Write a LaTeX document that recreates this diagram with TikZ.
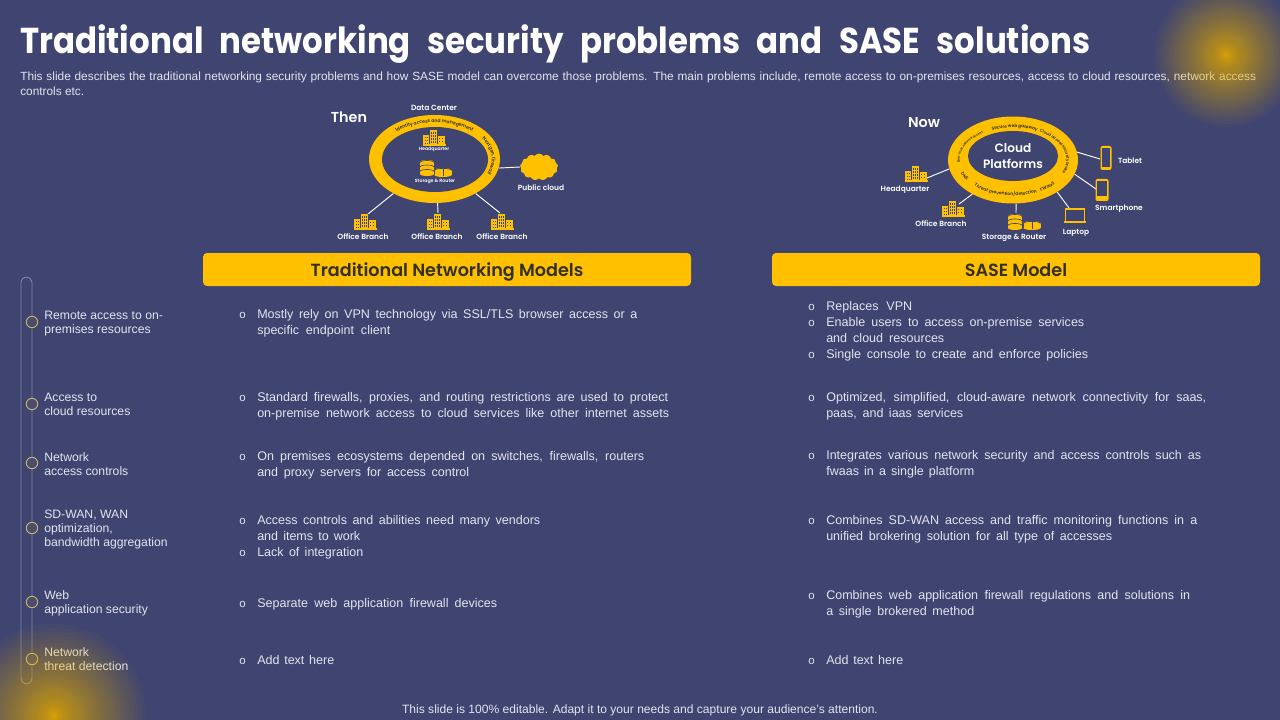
\documentclass[tikz,border=0pt]{standalone}
\usepackage{fontspec}
\setmainfont{Liberation Sans}
\newfontfamily\pop{Poppins}[BoldFont=* SemiBold]
\newfontfamily\popt{Poppins}
\usetikzlibrary{shapes.geometric,shapes.symbols,decorations.text}
\definecolor{bgc}{HTML}{3F4570}
\definecolor{gold}{HTML}{FFC000}
\definecolor{txtc}{HTML}{E2E4EE}
\definecolor{railc}{HTML}{7F84A0}
\definecolor{dotc}{HTML}{4C4C6C}
\definecolor{dotl}{HTML}{C9B46A}
\definecolor{darkt}{HTML}{33302A}
\newcommand\tline[5]{\node[txt] (#1) at (#2,#3) {\makebox[\dimexpr #4pt*3/4\relax][s]{#5}};}
\newcommand\bul[3]{\node[txt,font=\fontsize{8.6}{11}\selectfont] (#1) at (#2,#3) {o};}
\newcommand\glowat[3]{\foreach \k in {1,...,90}{\fill[gold,opacity=.032] (#1,#2) circle ({#3*(\k/90)*(\k/90)*(\k/90)*(\k/90)});}}
\newcommand\ringtxt[8]{\path[decorate,decoration={text along path,raise=-1.2pt,text align={align=center},text={|\pop\bfseries\fontsize{#8}{#8}\selectfont\color{darkt}|#7}}]
  (#1+#2*cos #5,#3+#4*sin #5) arc[start angle=#5,end angle=#6,x radius=#2,y radius=#4];}
\tikzset{
 x=0.75pt,y=-0.75pt,
 txt/.style={anchor=base west,inner sep=0pt,text=txtc,font=\fontsize{9.4}{11}\selectfont},
 desc/.style={anchor=base west,inner sep=0pt,text=txtc,font=\fontsize{8.9}{11}\selectfont},
 lab/.style={anchor=base west,inner sep=0pt,text=txtc,font=\fontsize{9.15}{11}\selectfont},
 tiny/.style={anchor=base,inner sep=0pt,text=white,font=\pop\bfseries\fontsize{5.6}{6}\selectfont},
 micro/.style={anchor=base,inner sep=0pt,text=white,font=\pop\bfseries\fontsize{3.5}{4}\selectfont},
 ringout/.style={ellipse,fill=gold,inner sep=0pt},
 ringin/.style={ellipse,fill=bgc,inner sep=0pt,align=center,text=white},
 link/.style={draw=white,line width=0.7pt},
 headbox/.style={fill=gold,rounded corners=3pt,minimum width=366pt,minimum height=24.75pt,inner sep=0pt,text=darkt,font=\pop\bfseries\fontsize{13.2}{14}\selectfont},
 dot/.style={circle,draw=dotl,fill=dotc,line width=0.7pt,minimum size=8.6pt,inner sep=0pt},
 bldg/.pic={
  \fill[gold] (-11,-3) rectangle (-4,7);
  \fill[gold] (-5,-7.5) rectangle (3,7);
  \fill[gold] (3,-2) rectangle (11,7);
  \fill[gold] (-11.5,6.5) rectangle (11.5,7.6);
  \draw[bgc,line width=.35pt] (-5,-7.5)--(-5,6.5) (3,-7.5)--(3,6.5);
  \foreach \xx in {-9.5,-7}{\foreach \yy in {-1,2,5}{\fill[bgc] (\xx,\yy) rectangle ++(1.1,1.3);}}
  \foreach \xx in {-3.5,-1,1}{\foreach \yy in {-5.5,-2.5,.5,3.5}{\fill[bgc] (\xx,\yy) rectangle ++(1,1.5);}}
  \foreach \xx in {5,7.5}{\foreach \yy in {0,3}{\fill[bgc] (\xx,\yy) rectangle ++(1.1,1.5);}}
 },
 dbase/.pic={
  \fill[gold] (-7,-6) rectangle (7,6);
  \fill[gold] (0,-6) ellipse (7 and 2);
  \fill[gold] (0,6) ellipse (7 and 2);
  \draw[bgc,line width=.5pt] (-7,-5.5) arc[start angle=180,end angle=360,x radius=7,y radius=2];
  \draw[bgc,line width=.5pt] (-7,-1) arc[start angle=180,end angle=360,x radius=7,y radius=2];
  \draw[bgc,line width=.5pt] (-7,3.5) arc[start angle=180,end angle=360,x radius=7,y radius=2];
 },
 router/.pic={
  \fill[gold] (-8.5,-2) rectangle (8.5,3);
  \fill[gold] (0,3) ellipse (8.5 and 2);
  \fill[gold] (0,-2) ellipse (8.5 and 2);
  \draw[bgc,line width=.5pt] (-8.5,-1.6) arc[start angle=180,end angle=360,x radius=8.5,y radius=2];
  \draw[bgc,line width=.4pt] (0,-3)--(0,4.5);
 },
 tablet/.pic={
  \fill[gold,rounded corners=1.5pt] (-5.5,-12) rectangle (5.5,12);
  \fill[bgc] (-4.3,-9.5) rectangle (4.3,9);
 },
 phone/.pic={
  \fill[gold,rounded corners=1.5pt] (-6.5,-11) rectangle (6.5,11);
  \fill[bgc] (-5.2,-8.5) rectangle (5.2,6.5);
 },
 laptop/.pic={
  \draw[gold,line width=.9pt,fill=bgc] (-9.5,-7) rectangle (9.5,5.5);
  \fill[gold] (-11,5) rectangle (11,7.5);
 },
}
\begin{document}
\begin{tikzpicture}
\useasboundingbox (0,0) rectangle (1280,720);
\clip (0,0) rectangle (1280,720);
\fill[bgc] (0,0) rectangle (1280,720);

% title
\node[anchor=base west,inner sep=0pt,text=white,font=\popt\bfseries\fontsize{27}{30}\selectfont] (title) at (20,54) {\scalebox{.9}[1]{\makebox[891.6pt][s]{Traditional networking security problems and SASE solutions}}};
\node[desc] (d1) at (20,81) {\makebox[927pt][s]{This slide describes the traditional networking security problems and how SASE model can overcome those problems. The main problems include, remote access to on-premises resources, access to cloud resources, network access}};
\node[desc] (d2) at (20,96) {controls etc.};

% Then diagram
\coordinate (of1) at (368,214);
\coordinate (of2) at (438,213);
\coordinate (of3) at (500,213);
\node[cloud,cloud puffs=13,cloud puff arc=110,aspect=1.4,fill=gold,minimum width=28.5pt,minimum height=20pt,inner sep=0pt] (pub) at (539,167) {};
\node[ringout,minimum width=98.25pt,minimum height=66pt] (ringA) at (434.5,159) {};
\draw[link] (ringA.-140) -- (of1);
\draw[link] (ringA.-86) -- (of2);
\draw[link] (ringA.-40) -- (of3);
\draw[link] (ringA.-8) -- (pub.west);
\node[ringin,minimum width=79.5pt,minimum height=48.75pt] (ringAi) at (435,159.5) {};
\ringtxt{434.5}{59}{159}{38}{215}{325}{Identity access and management}{3.5}
\ringtxt{434.5}{59}{159}{38}{-45}{35}{Next gen. firewall}{3.5}
\node[tiny] (thenl) at (349,123) {\fontsize{10.8}{12}\selectfont Then};
\node[tiny] (dc) at (434,110.5) {Data Center};
\pic at (434,138) {bldg};
\node[micro] (hq1) at (434,150.5) {Headquarter};
\pic at (427,168) {dbase};
\pic at (443,172) {router};
\node[micro] (st1) at (435,183) {Storage \& Router};
\node[tiny] (pl) at (541,190.5) {Public cloud};
\pic at (365,222) {bldg};
\pic at (438,222) {bldg};
\pic at (502,222) {bldg};
\node[tiny] (o1) at (363,239.5) {Office Branch};
\node[tiny] (o2) at (437,239.5) {Office Branch};
\node[tiny] (o3) at (502,239.5) {Office Branch};

% Now diagram
\coordinate (hqN) at (927,178);
\coordinate (ofN) at (959,204);
\coordinate (stN) at (1016,213);
\coordinate (lapN) at (1069,208);
\coordinate (phN) at (1096,189);
\coordinate (tabN) at (1100,159);
\node[ringout,minimum width=97.5pt,minimum height=65.25pt] (ringB) at (1013,160) {};
\draw[link] (ringB.188) -- (hqN);
\draw[link] (ringB.-140) -- (ofN);
\draw[link] (ringB.-86) -- (stN);
\draw[link] (ringB.-36) -- (lapN);
\draw[link] (ringB.-13) -- (phN);
\draw[link] (ringB.7) -- (tabN);
\node[ringin,minimum width=67.5pt,minimum height=37.5pt,font=\pop\bfseries\fontsize{9.1}{12}\selectfont] (ringBi) at (1013,156) {Cloud\\Platforms};
\ringtxt{1013}{55}{160}{34}{240}{304}{Secure web gateway}{3.3}
\ringtxt{1013}{55}{160}{34}{-58}{22}{Cloud access security broker}{3}
\ringtxt{1013}{55}{160}{34}{70}{30}{FWaaS}{3.3}
\ringtxt{1013}{55}{160}{34}{145}{55}{Threat prevention/detection}{3.3}
\ringtxt{1013}{55}{160}{34}{172}{134}{DNS}{3.3}
\ringtxt{1013}{55}{160}{34}{170}{240}{Zero-trust network access}{2.4}
\node[tiny] (nowl) at (924,128) {\fontsize{10.8}{12}\selectfont Now};
\pic at (916,174) {bldg};
\node[tiny] (hq2) at (905,191.5) {Headquarter};
\pic at (953,209) {bldg};
\node[tiny] (o4) at (941,226.5) {Office Branch};
\pic at (1015,222) {dbase};
\pic at (1032,225) {router};
\node[tiny] (st2) at (1014,239.5) {Storage \& Router};
\pic at (1075,216) {laptop};
\node[tiny] (lp) at (1076,234.5) {Laptop};
\pic at (1102,190) {phone};
\node[tiny] (sp) at (1119,210.5) {Smartphone};
\pic at (1106,158) {tablet};
\node[tiny] (tb) at (1130,163.5) {Tablet};

% headers
\node[headbox,text depth=0pt] (hL) at (447,269.5) {\raisebox{-.2pt}{Traditional Networking Models}};
\node[headbox,text depth=0pt] (hR) at (1016,269.5) {\raisebox{-.2pt}{SASE Model}};

% rail
\node[draw=railc,line width=.7pt,rounded corners=4.5pt,minimum width=8.25pt,minimum height=305.25pt,inner sep=0pt] (rail) at (26.5,480.5) {};
\node[dot] (c1) at (32,322) {};
\node[dot] (c2) at (32,404) {};
\node[dot] (c3) at (32,463) {};
\node[dot] (c4) at (32,528) {};
\node[dot] (c5) at (32,602) {};
\node[dot] (c6) at (32,659) {};
\node[lab] (l1a) at (44,319) {Remote access to on-};
\node[lab] (l1b) at (44,333) {premises resources};
\node[lab] (l2a) at (44,401) {Access to};
\node[lab] (l2b) at (44,415) {cloud resources};
\node[lab] (l3a) at (44,461) {Network};
\node[lab] (l3b) at (44,475) {access controls};
\node[lab] (l4a) at (44,518) {SD-WAN, WAN};
\node[lab] (l4b) at (44,532) {optimization,};
\node[lab] (l4c) at (44,546) {bandwidth aggregation};
\node[lab] (l5a) at (44,599) {Web};
\node[lab] (l5b) at (44,613) {application security};
\node[lab] (l6a) at (44,656) {Network};
\node[lab] (l6b) at (44,670) {threat detection};

% left column
\bul{b1}{239}{318.5}
\tline{t1a}{257}{318}{380}{Mostly rely on VPN technology via SSL/TLS browser access or a}
\tline{t1b}{257}{334}{133}{specific endpoint client}
\bul{b2}{239}{401.5}
\tline{t2a}{257}{401}{411}{Standard firewalls, proxies, and routing restrictions are used to protect}
\tline{t2b}{257}{417}{412}{on-premise network access to cloud services like other internet assets}
\bul{b3}{239}{460.5}
\tline{t3a}{257}{460}{387}{On premises ecosystems depended on switches, firewalls, routers}
\tline{t3b}{257}{476}{212}{and proxy servers for access control}
\bul{b4}{239}{524.5}
\tline{t4a}{257}{524}{283}{Access controls and abilities need many vendors}
\tline{t4b}{257}{540}{103}{and items to work}
\bul{b5}{239}{556.5}
\tline{t5a}{257}{556}{106}{Lack of integration}
\bul{b6}{239}{607.5}
\tline{t6a}{257}{607}{240}{Separate web application firewall devices}
\bul{b7}{239}{664.5}
\tline{t7a}{257}{664}{77}{Add text here}

% right column
\bul{r1}{808}{310.5}
\tline{s1a}{826}{310}{86}{Replaces VPN}
\bul{r2}{808}{326.5}
\tline{s2a}{826}{326}{258}{Enable users to access on-premise services}
\tline{s2b}{826}{342}{118}{and cloud resources}
\bul{r3}{808}{358.5}
\tline{s3a}{826}{358}{262}{Single console to create and enforce policies}
\bul{r4}{808}{401.5}
\tline{s4a}{826}{401}{380}{Optimized, simplified, cloud-aware network connectivity for saas,}
\tline{s4b}{826}{417}{137}{paas, and iaas services}
\bul{r5}{808}{459.5}
\tline{s5a}{826}{459}{375}{Integrates various network security and access controls such as}
\tline{s5b}{826}{475}{148}{fwaas in a single platform}
\bul{r6}{808}{524.5}
\tline{s6a}{826}{524}{371}{Combines SD-WAN access and traffic monitoring functions in a}
\tline{s6b}{826}{540}{286}{unified brokering solution for all type of accesses}
\bul{r7}{808}{599.5}
\tline{s7a}{826}{599}{364}{Combines web application firewall regulations and solutions in}
\tline{s7b}{826}{615}{148}{a single brokered method}
\bul{r8}{808}{664.5}
\tline{s8a}{826}{664}{77}{Add text here}

% footer
\node[anchor=base,inner sep=0pt,text=txtc,font=\fontsize{9.05}{11}\selectfont] (foot) at (640,713) {This slide is 100\% editable. Adapt it to your needs and capture your audience's attention.};

% glows over everything
\glowat{1226}{55}{72}
\glowat{54}{716}{92}
\end{tikzpicture}
\end{document}
